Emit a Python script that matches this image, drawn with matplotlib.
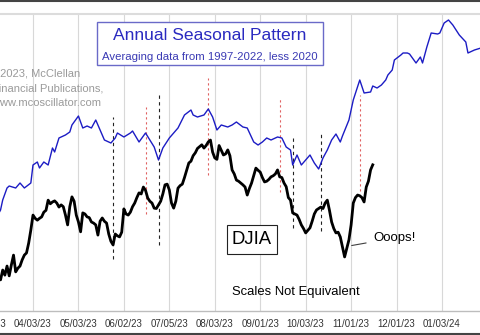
import numpy as np
import matplotlib
matplotlib.use("Agg")
import matplotlib.pyplot as plt
from matplotlib.patches import Rectangle
from matplotlib.lines import Line2D

plt.rcParams['font.family'] = ['Liberation Sans', 'DejaVu Sans']

# ---------------- data ----------------
market_holidays = ['2023-04-07', '2023-05-29', '2023-06-19', '2023-07-04', '2023-09-04',
                   '2023-11-23', '2023-12-25', '2024-01-01', '2024-01-15']

tick_dates = ['2023-03-03', '2023-04-03', '2023-05-03', '2023-06-02', '2023-07-05', '2023-08-03',
              '2023-09-01', '2023-10-03', '2023-11-01', '2023-12-01', '2024-01-03']
tick_labels = ['03/03/23', '04/03/23', '05/03/23', '06/02/23', '07/05/23', '08/03/23',
               '09/01/23', '10/03/23', '11/01/23', '12/01/23', '01/03/24']

djia_dates = [
    '2023-03-10', '2023-03-13', '2023-03-14', '2023-03-15', '2023-03-16', '2023-03-17',
    '2023-03-20', '2023-03-21', '2023-03-22', '2023-03-23', '2023-03-24', '2023-03-27',
    '2023-03-28', '2023-03-29', '2023-03-30', '2023-03-31', '2023-04-03', '2023-04-04',
    '2023-04-05', '2023-04-06', '2023-04-10', '2023-04-11', '2023-04-12', '2023-04-13',
    '2023-04-14', '2023-04-17', '2023-04-18', '2023-04-19', '2023-04-20', '2023-04-21',
    '2023-04-24', '2023-04-25', '2023-04-26', '2023-04-27', '2023-04-28', '2023-05-01',
    '2023-05-02', '2023-05-03', '2023-05-04', '2023-05-05', '2023-05-08', '2023-05-09',
    '2023-05-10', '2023-05-11', '2023-05-12', '2023-05-15', '2023-05-16', '2023-05-17',
    '2023-05-18', '2023-05-19', '2023-05-22', '2023-05-23', '2023-05-24', '2023-05-25',
    '2023-05-26', '2023-05-30', '2023-05-31', '2023-06-01', '2023-06-02', '2023-06-05',
    '2023-06-06', '2023-06-07', '2023-06-08', '2023-06-09', '2023-06-12', '2023-06-13',
    '2023-06-14', '2023-06-15', '2023-06-16', '2023-06-20', '2023-06-21', '2023-06-22',
    '2023-06-23', '2023-06-26', '2023-06-27', '2023-06-28', '2023-06-29', '2023-06-30',
    '2023-07-03', '2023-07-05', '2023-07-06', '2023-07-07', '2023-07-10', '2023-07-11',
    '2023-07-12', '2023-07-13', '2023-07-14', '2023-07-17', '2023-07-18', '2023-07-19',
    '2023-07-20', '2023-07-21', '2023-07-24', '2023-07-25', '2023-07-26', '2023-07-27',
    '2023-07-28', '2023-07-31', '2023-08-01', '2023-08-02', '2023-08-03', '2023-08-04',
    '2023-08-07', '2023-08-08', '2023-08-09', '2023-08-10', '2023-08-11', '2023-08-14',
    '2023-08-15', '2023-08-16', '2023-08-17', '2023-08-18', '2023-08-21', '2023-08-22',
    '2023-08-23', '2023-08-24', '2023-08-25', '2023-08-28', '2023-08-29', '2023-08-30',
    '2023-08-31', '2023-09-01', '2023-09-05', '2023-09-06', '2023-09-07', '2023-09-08',
    '2023-09-11', '2023-09-12', '2023-09-13', '2023-09-14', '2023-09-15', '2023-09-18',
    '2023-09-19', '2023-09-20', '2023-09-21', '2023-09-22', '2023-09-25', '2023-09-26',
    '2023-09-27', '2023-09-28', '2023-09-29', '2023-10-02', '2023-10-03', '2023-10-04',
    '2023-10-05', '2023-10-06', '2023-10-09', '2023-10-10', '2023-10-11', '2023-10-12',
    '2023-10-13', '2023-10-16', '2023-10-17', '2023-10-18', '2023-10-19', '2023-10-20',
    '2023-10-23', '2023-10-24', '2023-10-25', '2023-10-26', '2023-10-27', '2023-10-30',
    '2023-10-31', '2023-11-01', '2023-11-02', '2023-11-03', '2023-11-06', '2023-11-07',
    '2023-11-08', '2023-11-09', '2023-11-10', '2023-11-13', '2023-11-14', '2023-11-15']
djia_close = [
    31850, 31790, 32060, 31920, 32170, 31900,
    32200, 32470, 32010, 32110, 32170, 32340,
    32470, 32530, 32800, 33160, 33570, 33480,
    33430, 33480, 33520, 33650, 33700, 33980,
    33880, 33930, 33960, 33900, 33790, 33850,
    33800, 33570, 33300, 33800, 34070, 33950,
    33570, 33380, 33110, 33630, 33600, 33520,
    33500, 33380, 33350, 33300, 33020, 33400,
    33490, 33400, 33350, 33050, 32850, 32750,
    33050, 33000, 32970, 33100, 33740, 33600,
    33570, 33650, 33800, 33900, 34050, 34180,
    34150, 34340, 34250, 34040, 33950, 33900,
    33760, 33750, 33850, 33950, 34150, 34400,
    34420, 34260, 33900, 33760, 33950, 34310,
    34380, 34420, 34600, 34800, 35000, 35050,
    35200, 35280, 35400, 35450, 35500, 35410,
    35480, 35580, 35630, 35300, 35140, 35100,
    35480, 35350, 35220, 35250, 35360, 35200,
    34810, 34700, 34530, 34500, 34450, 34400,
    34340, 34120, 34300, 34450, 34650, 34860,
    34800, 34750, 34600, 34480, 34500, 34550,
    34620, 34650, 34700, 34810, 34620, 34600,
    34450, 34350, 34050, 33980, 33630, 33600,
    33570, 33450, 33300, 33200, 33080, 33150,
    33220, 33400, 33600, 33710, 33750, 33790,
    33750, 33900, 33980, 33700, 33380, 33200,
    33080, 33100, 32970, 32700, 32420, 32650,
    32890, 33300, 33900, 34050, 34120, 34100,
    34050, 33930, 34340, 34500, 34810, 34950]

seasonal_dates = [
    '2023-03-10', '2023-03-13', '2023-03-14', '2023-03-16', '2023-03-17', '2023-03-22',
    '2023-03-24', '2023-03-28', '2023-03-31', '2023-04-03', '2023-04-05', '2023-04-06',
    '2023-04-11', '2023-04-13', '2023-04-17', '2023-04-18', '2023-04-20', '2023-04-25',
    '2023-04-27', '2023-04-28', '2023-05-03', '2023-05-05', '2023-05-09', '2023-05-11',
    '2023-05-15', '2023-05-17', '2023-05-19', '2023-05-24', '2023-05-26', '2023-05-30',
    '2023-06-02', '2023-06-07', '2023-06-08', '2023-06-13', '2023-06-16', '2023-06-21',
    '2023-06-23', '2023-06-27', '2023-06-29', '2023-07-05', '2023-07-11', '2023-07-14',
    '2023-07-19', '2023-07-20', '2023-07-24', '2023-07-27', '2023-07-31', '2023-08-02',
    '2023-08-04', '2023-08-08', '2023-08-11', '2023-08-15', '2023-08-17', '2023-08-22',
    '2023-08-24', '2023-08-29', '2023-08-31', '2023-09-05', '2023-09-07', '2023-09-11',
    '2023-09-14', '2023-09-18', '2023-09-20', '2023-09-22', '2023-09-25', '2023-09-27',
    '2023-09-29', '2023-10-03', '2023-10-05', '2023-10-09', '2023-10-11', '2023-10-13',
    '2023-10-17', '2023-10-19', '2023-10-23', '2023-10-25', '2023-10-26', '2023-10-31',
    '2023-11-02', '2023-11-07', '2023-11-09', '2023-11-14', '2023-11-15', '2023-11-17',
    '2023-11-21', '2023-11-24', '2023-11-27', '2023-11-29', '2023-11-30', '2023-12-05',
    '2023-12-06', '2023-12-08', '2023-12-11', '2023-12-12', '2023-12-14', '2023-12-18',
    '2023-12-19', '2023-12-21', '2023-12-26', '2023-12-29', '2024-01-02', '2024-01-04',
    '2024-01-08', '2024-01-10', '2024-01-16', '2024-01-19', '2024-01-22', '2024-01-25',
    '2024-01-30']
seasonal_values = [
    3.6, 4.0, 5.0, 6.2, 6.4, 6.2,
    6.7, 6.2, 6.7, 8.5, 8.8, 8.2,
    8.8, 8.5, 10.2, 9.8, 11.2, 11.5,
    11.8, 12.5, 13.4, 12.2, 12.4, 12.2,
    13.0, 12.0, 11.0, 10.7, 11.2, 11.7,
    11.3, 11.7, 11.9, 10.8, 11.7, 11.0,
    10.3, 9.0, 10.2, 11.2, 12.2, 13.5,
    14.0, 13.5, 13.3, 13.5, 14.1, 13.3,
    12.0, 12.5, 12.3, 12.5, 12.8, 12.3,
    12.2, 10.8, 10.5, 10.8, 11.2, 11.0,
    11.3, 11.2, 10.3, 10.0, 8.5, 9.5,
    8.5, 9.0, 9.5, 8.7, 8.1, 9.2,
    10.0, 11.0, 11.6, 10.8, 11.4, 13.0,
    15.0, 17.0, 15.7, 15.8, 16.4, 16.2,
    16.5, 17.0, 17.5, 18.0, 19.0, 19.5,
    19.7, 19.7, 19.6, 19.3, 18.7, 19.3,
    18.7, 20.3, 21.7, 21.6, 21.7, 22.7,
    23.0, 22.5, 21.5, 20.8, 19.7, 20.0,
    20.2]

# vertical marker lines (date, low, high in DJIA units)
black_mark_dates = ['2023-05-25', '2023-06-27', '2023-09-25', '2023-10-12']
black_mark_low = [32360, 32750, 33215, 33130]
black_mark_high = [36260, 36950, 35740, 35850]
red_mark_dates = ['2023-06-16', '2023-07-31', '2023-09-15', '2023-11-07']
red_mark_low = [33600, 34670, 34200, 34230]
red_mark_high = [36540, 37330, 36790, 36870]

# ---------------- helpers ----------------
ANCHOR = '2023-04-03'


def session(dates):
    return np.busday_count(ANCHOR, np.array(dates, dtype='datetime64[D]'),
                           holidays=market_holidays)


W, H = 480, 335
fig = plt.figure(figsize=(W / 100, H / 100), dpi=100)


def fx(px):
    return px / W


def fy(py):
    return 1 - py / H


PX_PER_SESSION = 2.164
X0_PX = 33.0
left_px, right_px = -30, 480
ax = fig.add_axes([fx(left_px), fy(311), (right_px - left_px) / W, (311 - 14) / H])
ax.set_xlim((left_px - X0_PX) / PX_PER_SESSION, (right_px - X0_PX) / PX_PER_SESSION)
ax.set_ylim(30935, 39093)
ax.patch.set_alpha(0)

ax2 = ax.twinx()
ax2.set_ylim(-6.1, 23.6)
ax2.patch.set_alpha(0)

for a in (ax, ax2):
    for s in ('left', 'right'):
        a.spines[s].set_visible(False)
    a.tick_params(axis='y', left=False, right=False, labelleft=False, labelright=False)
ax2.spines['top'].set_visible(False)
ax2.spines['bottom'].set_visible(False)
ax.spines['top'].set_color('#dcdcdc')
ax.spines['top'].set_linewidth(1.5)
ax.spines['bottom'].set_color('#bdbdbd')
ax.spines['bottom'].set_linewidth(1.0)

ax.set_xticks(session(tick_dates))
ax.set_xticklabels(tick_labels, fontsize=7, color='#333333')
ax.tick_params(axis='x', length=0, pad=6)
ax.grid(axis='x', color='#d8d8d8', lw=0.8)
ax.set_axisbelow(True)
ax2.tick_params(axis='x', bottom=False, top=False, labelbottom=False)

# vertical marker lines
ax.vlines(session(black_mark_dates), black_mark_low, black_mark_high,
          colors='#222222', lw=0.8, linestyles=(0, (3, 3)), zorder=1)
ax.vlines(session(red_mark_dates), red_mark_low, red_mark_high,
          colors='#e06060', lw=0.8, linestyles=(0, (2, 2.5)), zorder=1)

# series
ax.plot(session(djia_dates), djia_close, color='black', lw=2.0, zorder=3,
        solid_joinstyle='round')
ax2.plot(session(seasonal_dates), seasonal_values, color='#1c1cc4', lw=1.0, zorder=3)

# annotations
ax.annotate('Ooops!', xy=(session(['2023-10-31'])[0], 32720),
            xytext=(fx(373), fy(238)), textcoords='figure fraction',
            fontsize=9.5, ha='left', va='center', color='black',
            arrowprops=dict(arrowstyle='-', color='#404040', lw=0.8,
                            shrinkA=3, shrinkB=2))

# title box
fig.patches.append(Rectangle((fx(97), fy(65)), fx(323) - fx(97), fy(22) - fy(65),
                             transform=fig.transFigure, facecolor='white',
                             edgecolor='#6a6ac8', lw=1.0, zorder=5))
fig.text(fx(210), fy(36), 'Annual Seasonal Pattern', fontsize=12.6, color='#2a2ac0',
         ha='center', va='center', zorder=6)
fig.text(fx(210), fy(57), 'Averaging data from 1997-2022, less 2020', fontsize=8.2,
         color='#3a3ab4', ha='center', va='center', zorder=6)

# copyright
for i, line in enumerate(['\u00a92023, McClellan', 'Financial Publications,',
                          'www.mcoscillator.com']):
    fig.text(fx(-8), fy(73 + 15 * i), line, fontsize=8, color='#9a9a9a',
             ha='left', va='center', zorder=6)

# DJIA box
fig.patches.append(Rectangle((fx(227), fy(254)), fx(277) - fx(227), fy(225) - fy(254),
                             transform=fig.transFigure, facecolor='white',
                             edgecolor='#222222', lw=0.8, zorder=5))
fig.text(fx(252), fy(240), 'DJIA', fontsize=13.3, color='black',
         ha='center', va='center', zorder=6)

fig.text(fx(296), fy(292), 'Scales Not Equivalent', fontsize=9.4, color='black',
         ha='center', va='center', zorder=6)

# image frame lines
fig.add_artist(Line2D([0, 1], [fy(1), fy(1)], transform=fig.transFigure,
                      color='#444444', lw=1.5))
fig.add_artist(Line2D([0, 1], [fy(333.5), fy(333.5)], transform=fig.transFigure,
                      color='#444444', lw=1.5))

fig.savefig('out.png', dpi=100)
